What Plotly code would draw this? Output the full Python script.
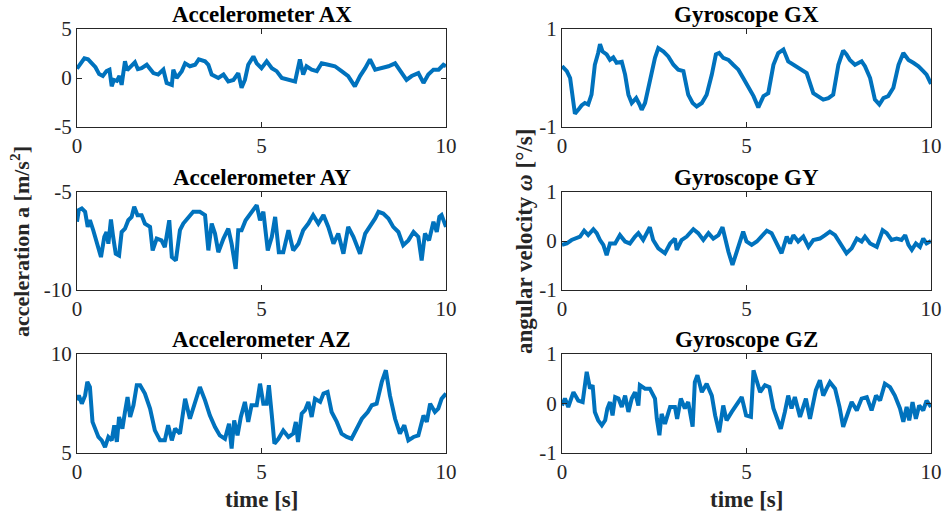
import plotly.graph_objects as go

# ---------------- data ----------------
ax_t = [0, 0.1, 0.2, 0.3, 0.4, 0.5, 0.6, 0.7, 0.8, 0.88, 0.94, 1.0, 1.08, 1.15, 1.21, 1.3, 1.36, 1.45, 1.57, 1.65,
        1.75, 1.89, 2.07, 2.2, 2.34, 2.43, 2.5, 2.57, 2.61, 2.7, 2.84, 2.93, 3.06, 3.2, 3.3, 3.47, 3.56, 3.65, 3.83,
        3.97, 4.1, 4.24, 4.37, 4.46, 4.55, 4.64, 4.78, 4.87, 5.0, 5.14, 5.28, 5.41, 5.55, 5.73, 5.91, 6.04, 6.13,
        6.22, 6.36, 6.5, 6.63, 6.81, 6.99, 7.17, 7.35, 7.53, 7.67, 7.81, 7.94, 8.08, 8.26, 8.44, 8.62, 8.75, 8.93,
        9.07, 9.25, 9.39, 9.52, 9.66, 9.8, 9.93, 10.0]
ax_v = [0.95, 1.5, 2.0, 1.9, 1.5, 1.1, 0.4, 0.2, 0.7, 0.85, -0.85, -0.2, -0.3, 0.2, -0.7, 1.7, 0.8, 1.2, 1.6, 0.9,
        1.0, 1.35, 0.5, 0.35, 0.85, -0.5, -0.6, -0.7, 0.85, 0.0, 0.7, 1.5, 1.2, 1.35, 1.9, 1.7, 1.35, 0.35, 0.0,
        0.35, -0.35, -0.2, 0.5, -1.0, -0.2, 1.35, 2.2, 1.5, 1.0, 1.7, 1.0, 0.7, 0.0, -0.2, -0.35, 1.9, 0.35,
        1.2, 0.85, 0.7, 1.5, 1.35, 1.2, 0.7, 0.2, -0.85, 0.2, 1.0, 1.9, 0.85, 1.0, 1.2, 1.5, 0.85, -0.2,
        0.2, 0.5, -0.5, 0.35, 0.85, 0.85, 1.35, 1.2]

ay_t = [0, 0.05, 0.13, 0.22, 0.29, 0.35, 0.44, 0.53, 0.65, 0.74, 0.8, 0.85, 0.92, 0.98, 1.05, 1.14, 1.21, 1.3, 1.39,
        1.48, 1.55, 1.64, 1.75, 1.84, 1.98, 2.05, 2.16, 2.29, 2.38, 2.5, 2.57, 2.68, 2.79, 2.88, 3.02, 3.15, 3.33,
        3.47, 3.56, 3.65, 3.74, 3.83, 3.97, 4.1, 4.19, 4.3, 4.37, 4.46, 4.57, 4.73, 4.87, 4.96, 5.05, 5.17, 5.28,
        5.37, 5.47, 5.59, 5.73, 5.86, 6.0, 6.13, 6.27, 6.4, 6.54, 6.68, 6.81, 6.95, 7.08, 7.22, 7.35, 7.49, 7.67,
        7.81, 7.94, 8.08, 8.17, 8.3, 8.44, 8.57, 8.71, 8.84, 8.98, 9.12, 9.25, 9.34, 9.43, 9.54, 9.66, 9.75, 9.82,
        9.88, 10.0]
ay_v = [-6.52, -5.92, -5.84, -6.01, -6.78, -6.44, -6.95, -7.47, -8.32, -7.29, -7.04, -7.64, -6.4, -7.29, -8.15,
        -8.24, -7.04, -6.87, -6.44, -6.27, -5.75, -6.18, -6.18, -6.61, -6.78, -7.98, -7.38, -7.47, -7.81, -6.44,
        -8.32, -8.49, -6.95, -6.61, -6.27, -6.01, -6.01, -6.18, -7.98, -6.61, -7.12, -8.07, -7.38, -6.87, -7.64,
        -8.92, -6.95, -6.95, -6.44, -6.01, -5.67, -6.44, -6.01, -7.98, -7.29, -6.27, -8.07, -8.07, -6.95, -7.98,
        -7.64, -6.95, -6.61, -6.18, -6.61, -6.18, -6.78, -7.64, -7.12, -8.15, -6.78, -7.29, -8.15, -7.12, -6.78,
        -6.35, -6.01, -6.1, -6.35, -6.78, -7.04, -7.72, -7.47, -7.04, -7.29, -8.49, -7.12, -7.47, -6.52, -7.04,
        -6.27, -6.18, -6.78]

az_t = [0, 0.05, 0.13, 0.22, 0.28, 0.35, 0.42, 0.51, 0.58, 0.67, 0.76, 0.85, 0.94, 1.01, 1.08, 1.14, 1.23, 1.3,
        1.37, 1.44, 1.53, 1.62, 1.71, 1.84, 1.98, 2.11, 2.25, 2.38, 2.47, 2.57, 2.66, 2.79, 2.93, 3.06, 3.2, 3.33,
        3.47, 3.6, 3.74, 3.87, 4.01, 4.12, 4.19, 4.26, 4.35, 4.44, 4.55, 4.64, 4.73, 4.87, 4.96, 5.05, 5.14, 5.2,
        5.28, 5.35, 5.46, 5.59, 5.73, 5.86, 5.93, 5.99, 6.09, 6.18, 6.27, 6.36, 6.45, 6.59, 6.68, 6.79, 6.9, 7.04,
        7.17, 7.31, 7.44, 7.58, 7.72, 7.88, 7.99, 8.12, 8.26, 8.37, 8.48, 8.62, 8.75, 8.87, 8.98, 9.12, 9.25, 9.39,
        9.48, 9.57, 9.7, 9.79, 9.88, 10.0]
az_v = [7.66, 7.91, 7.49, 7.91, 8.59, 8.33, 6.57, 6.14, 5.81, 5.64, 5.3, 5.81, 5.64, 6.4, 5.56, 6.82, 6.23, 7.07,
        7.83, 6.82, 7.41, 8.42, 8.42, 8.0, 7.24, 6.14, 5.64, 5.64, 6.4, 5.64, 6.23, 5.98, 7.74, 6.73, 7.58, 8.33,
        7.66, 6.9, 6.31, 5.89, 5.72, 6.48, 5.22, 6.65, 5.89, 6.82, 7.58, 6.57, 7.41, 7.41, 8.5, 7.49, 7.49, 8.42,
        6.9, 5.47, 5.72, 6.14, 5.81, 5.98, 6.57, 5.56, 6.99, 7.16, 7.58, 6.82, 7.74, 7.58, 8.0, 8.08, 7.07, 6.57,
        5.98, 5.81, 5.72, 6.23, 6.73, 7.07, 7.41, 7.49, 8.59, 9.18, 7.91, 6.73, 5.98, 6.4, 5.64, 5.81, 5.89, 6.9,
        6.57, 7.49, 7.07, 7.24, 7.74, 8.0]

gx_t = [0, 0.13, 0.22, 0.31, 0.35, 0.44, 0.53, 0.62, 0.71, 0.8, 0.89, 0.98, 1.03, 1.1, 1.21, 1.3, 1.39, 1.48, 1.62,
        1.71, 1.8, 1.89, 2.01, 2.1, 2.16, 2.25, 2.38, 2.52, 2.61, 2.75, 2.88, 3.02, 3.15, 3.29, 3.42, 3.54, 3.65,
        3.79, 3.92, 4.06, 4.17, 4.26, 4.37, 4.51, 4.64, 4.78, 4.91, 5.05, 5.19, 5.32, 5.46, 5.59, 5.73, 5.86, 6.0,
        6.13, 6.27, 6.45, 6.63, 6.81, 6.95, 7.08, 7.22, 7.35, 7.49, 7.62, 7.71, 7.8, 7.94, 8.12, 8.21, 8.35, 8.48,
        8.6, 8.71, 8.84, 8.98, 9.12, 9.25, 9.39, 9.52, 9.66, 9.79, 9.88, 10.0]
gx_v = [0.24, 0.14, 0.0, -0.54, -0.73, -0.65, -0.56, -0.51, -0.54, -0.34, 0.27, 0.51, 0.69, 0.54, 0.48, 0.37, 0.42,
        0.31, 0.33, 0.07, -0.34, -0.51, -0.41, -0.54, -0.65, -0.51, -0.07, 0.41, 0.61, 0.54, 0.44, 0.27, 0.17, 0.14,
        -0.34, -0.51, -0.58, -0.51, -0.34, 0.07, 0.48, 0.51, 0.41, 0.37, 0.27, 0.17, 0.0, -0.17, -0.37, -0.6, -0.37,
        -0.31, 0.27, 0.51, 0.58, 0.34, 0.27, 0.17, 0.1, -0.31, -0.39, -0.44, -0.41, -0.34, 0.27, 0.56, 0.48, 0.37,
        0.27, 0.34, 0.24, 0.0, -0.44, -0.54, -0.41, -0.37, -0.2, 0.27, 0.51, 0.37, 0.31, 0.24, 0.14, 0.07, -0.12]

gy_t = [0, 0.13, 0.26, 0.4, 0.49, 0.6, 0.71, 0.85, 0.94, 1.03, 1.12, 1.21, 1.3, 1.44, 1.57, 1.71, 1.84, 1.98, 2.07,
        2.2, 2.38, 2.47, 2.61, 2.79, 2.93, 3.06, 3.11, 3.24, 3.38, 3.56, 3.69, 3.83, 3.97, 4.1, 4.24, 4.35, 4.42,
        4.51, 4.62, 4.69, 4.82, 4.91, 5.0, 5.14, 5.28, 5.41, 5.55, 5.68, 5.82, 5.95, 6.09, 6.18, 6.27, 6.4, 6.54,
        6.68, 6.81, 6.99, 7.13, 7.26, 7.4, 7.53, 7.71, 7.85, 7.99, 8.12, 8.21, 8.35, 8.53, 8.69, 8.8, 8.93, 9.07,
        9.2, 9.3, 9.39, 9.48, 9.59, 9.7, 9.79, 9.88, 10.0]
gy_v = [-0.08, -0.05, 0.02, 0.05, 0.09, 0.21, 0.12, 0.24, 0.16, 0.02, -0.08, -0.29, -0.05, -0.05, 0.12, -0.01,
        -0.05, 0.09, 0.16, 0.02, 0.28, 0.02, -0.15, -0.25, -0.05, 0.05, -0.18, 0.02, 0.09, 0.24, 0.16, 0.02, 0.16,
        0.05, 0.12, 0.28, 0.02, -0.22, -0.49, -0.32, -0.05, 0.19, -0.01, -0.08, -0.01, 0.09, 0.21, 0.16, -0.05,
        -0.25, 0.09, -0.05, 0.12, -0.01, 0.09, -0.12, 0.02, 0.05, 0.12, 0.19, 0.12, -0.05, -0.25, -0.15, 0.05,
        -0.01, 0.09, -0.05, -0.12, 0.22, 0.16, 0.02, 0.05, 0.02, 0.12, -0.08, -0.18, -0.05, -0.12, 0.05, -0.05, 0.0]

gz_t = [0, 0.08, 0.17, 0.31, 0.44, 0.56, 0.67, 0.76, 0.83, 0.89, 0.98, 1.08, 1.17, 1.23, 1.3, 1.37, 1.44, 1.53,
        1.62, 1.71, 1.8, 1.89, 1.98, 2.07, 2.11, 2.25, 2.38, 2.52, 2.57, 2.64, 2.7, 2.79, 2.93, 3.06, 3.12, 3.22,
        3.33, 3.42, 3.54, 3.6, 3.67, 3.79, 3.92, 4.06, 4.15, 4.26, 4.37, 4.46, 4.6, 4.73, 4.87, 4.99, 5.12, 5.19,
        5.28, 5.37, 5.5, 5.62, 5.73, 5.84, 5.93, 6.04, 6.13, 6.22, 6.31, 6.45, 6.61, 6.72, 6.81, 6.88, 6.99, 7.08,
        7.17, 7.26, 7.4, 7.52, 7.62, 7.73, 7.85, 7.99, 8.12, 8.26, 8.39, 8.51, 8.62, 8.75, 8.89, 9.02, 9.16, 9.25,
        9.34, 9.41, 9.5, 9.59, 9.68, 9.79, 9.88, 10.0]
gz_v = [-0.04, 0.1, -0.07, 0.23, 0.06, 0.03, 0.64, 0.3, 0.37, -0.17, -0.34, -0.44, -0.34, -0.1, 0.03, -0.24, 0.13,
        0.1, -0.07, 0.16, -0.17, 0.1, 0.23, -0.04, 0.37, 0.3, 0.3, 0.1, -0.31, -0.64, -0.21, -0.41, -0.07, -0.07,
        -0.31, 0.1, -0.1, 0.03, -0.47, 0.43, 0.57, 0.23, 0.4, 0.16, -0.24, -0.58, -0.04, -0.34, -0.17, -0.04, 0.13,
        -0.24, -0.27, 0.67, 0.43, 0.23, 0.37, 0.33, -0.1, -0.31, -0.51, -0.17, 0.16, -0.1, 0.13, -0.27, 0.1, -0.31,
        0.0, 0.27, 0.47, 0.16, 0.3, 0.43, 0.3, -0.07, -0.47, -0.21, 0.03, -0.14, 0.1, 0.13, -0.14, 0.16, 0.06, 0.4,
        0.33, 0.16, -0.1, -0.37, -0.07, -0.34, 0.03, -0.31, -0.04, -0.14, 0.06, -0.07]

titles = ["Accelerometer AX", "Gyroscope GX", "Accelerometer AY", "Gyroscope GY",
          "Accelerometer AZ", "Gyroscope GZ"]
x_ticks = [0, 5, 10]
x_ticktext = ["0", "5", "10"]
y_ranges = [[-5, 5], [-1, 1], [-10, -5], [-1, 1], [5, 10], [-1, 1]]
y_tickvals = [[-5, 0, 5], [-1, 1], [-10, -5], [-1, 0, 1], [5, 10], [-1, 0, 1]]
y_ticktext = [["-5", "0", "5"], ["-1", "1"], ["-10", "-5"], ["-1", "0", "1"], ["5", "10"], ["-1", "0", "1"]]
x_label = "time [s]"
y_label_left = "acceleration a [m/s<sup>2</sup>]"
y_label_right = "angular velocity <i>ω</i> [°/s]"

series = [(ax_t, ax_v), (gx_t, gx_v), (ay_t, ay_v), (gy_t, gy_v), (az_t, az_v), (gz_t, gz_v)]

# ---------------- layout ----------------
W, H = 944, 517
col_px = [(77, 446), (562, 931)]
row_px = [(29, 127), (192, 290), (354, 453)]
font_family = "Liberation Serif, Times New Roman, serif"
axis_color = "#262626"
line_color = "#0072BD"

fig = go.Figure()
layout = dict(
    width=W, height=H,
    margin=dict(l=0, r=0, t=0, b=0, autoexpand=False),
    paper_bgcolor="white", plot_bgcolor="white",
    showlegend=False,
    font=dict(family=font_family, size=21, color=axis_color),
)
annotations = []
for i, (t, v) in enumerate(series):
    r, c = divmod(i, 2)
    n = i + 1
    xa = "x" if n == 1 else f"x{n}"
    ya = "y" if n == 1 else f"y{n}"
    fig.add_trace(go.Scatter(x=t, y=v, mode="lines", xaxis=xa, yaxis=ya,
                             line=dict(color=line_color, width=4)))
    x0, x1 = col_px[c]
    y0, y1 = row_px[r]
    common = dict(showline=True, linecolor=axis_color, linewidth=1, mirror="allticks",
                  ticks="inside", ticklen=5, tickcolor=axis_color, showgrid=False,
                  zeroline=False, automargin=False,
                  tickfont=dict(family=font_family, size=21, color=axis_color))
    layout["xaxis" if n == 1 else f"xaxis{n}"] = dict(
        domain=[x0 / W, x1 / W], anchor=ya, range=[0, 10],
        tickvals=x_ticks, ticktext=x_ticktext, **common)
    layout["yaxis" if n == 1 else f"yaxis{n}"] = dict(
        domain=[1 - y1 / H, 1 - y0 / H], anchor=xa, range=y_ranges[i],
        tickvals=y_tickvals[i], ticktext=y_ticktext[i], **common)
    annotations.append(dict(text=f"<b>{titles[i]}</b>", x=(x0 + x1) / 2 / W, y=1 - (y0 - 15) / H,
                            xref="paper", yref="paper", showarrow=False, xanchor="center",
                            yanchor="middle", font=dict(size=23, color="black", family=font_family)))

for c in range(2):
    x0, x1 = col_px[c]
    annotations.append(dict(text=f"<b>{x_label}</b>", x=(x0 + x1) / 2 / W, y=1 - 499 / H,
                            xref="paper", yref="paper", showarrow=False, xanchor="center",
                            yanchor="middle", font=dict(size=23, color=axis_color, family=font_family)))
annotations.append(dict(text=f"<b>{y_label_left}</b>", x=20 / W, y=1 - 242 / H, textangle=-90,
                        xref="paper", yref="paper", showarrow=False, xanchor="center", yanchor="middle",
                        font=dict(size=22, color=axis_color, family=font_family)))
annotations.append(dict(text=f"<b>{y_label_right}</b>", x=524 / W, y=1 - 242 / H, textangle=-90,
                        xref="paper", yref="paper", showarrow=False, xanchor="center", yanchor="middle",
                        font=dict(size=23, color=axis_color, family=font_family)))
layout["annotations"] = annotations
fig.update_layout(**layout)
fig.write_html("out.html")
